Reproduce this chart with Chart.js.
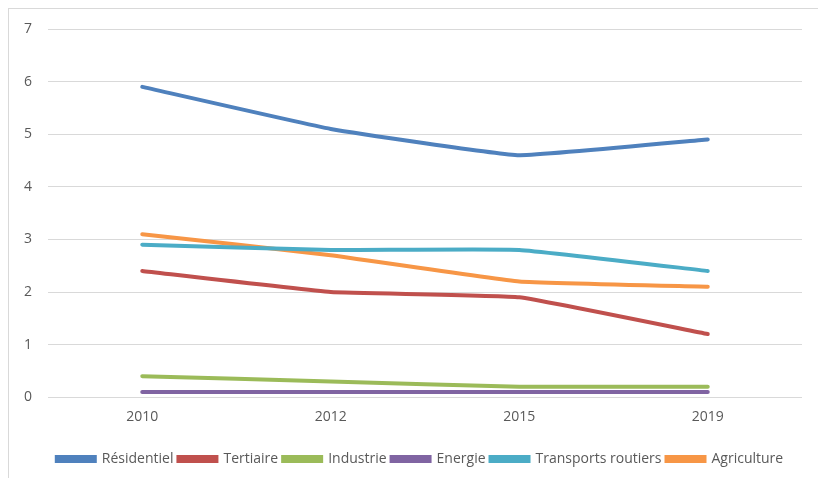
<!DOCTYPE html>
<html>
<head>
<meta charset="utf-8">
<script src="https://cdn.jsdelivr.net/npm/chart.js@4"></script>
<style>
  body { margin: 0; background: #fff; }
  #frame { position: absolute; left: 8px; top: 8px; width: 900px; height: 600px; border: 1px solid #d9d9d9; }
  #wrap { position: absolute; left: 0; top: 0; width: 818px; height: 478px; }
</style>
</head>
<body>
<div id="frame"></div>
<div id="wrap"><canvas id="myChart"></canvas></div>
<script>
// Years on the x-axis
const years = ['2010', '2012', '2015', '2019'];

// Values per sector
const residentiel = [5.9, 5.1, 4.6, 4.9];
const tertiaire = [2.4, 2.0, 1.9, 1.2];
const industrie = [0.4, 0.3, 0.2, 0.2];
const energie = [0.1, 0.1, 0.1, 0.1];
const transports = [2.9, 2.8, 2.8, 2.4];
const agriculture = [3.1, 2.7, 2.2, 2.1];

const font = "'Open Sans', 'Liberation Sans', sans-serif";

function serie(label, values, color) {
    return {
        label: label,
        data: values,
        borderColor: color,
        backgroundColor: color,
        borderWidth: 4,
        borderCapStyle: 'round',
        pointRadius: 0,
        tension: 0.1
    };
}

// nudge the legend a bit to the right
const legendShift = {
    id: 'legendShift',
    afterLayout(chart) {
        chart.legend.left += 15;
        chart.legend.right += 15;
    }
};

const ctx = document.getElementById('myChart').getContext('2d');

const myChart = new Chart(ctx, {
    type: 'line',
    data: {
        labels: years,
        datasets: [
            serie('Résidentiel', residentiel, '#4F81BD'),
            serie('Tertiaire', tertiaire, '#C0504D'),
            serie('Industrie', industrie, '#9BBB59'),
            serie('Energie', energie, '#8064A2'),
            serie('Transports routiers', transports, '#4BACC6'),
            serie('Agriculture', agriculture, '#F79646')
        ]
    },
    plugins: [legendShift],
    options: {
        responsive: true,
        maintainAspectRatio: false,
        animation: false,
        layout: { padding: { left: 8, right: 16, top: 29, bottom: 2 } },
        plugins: {
            tooltip: { enabled: false },
            legend: {
                position: 'bottom',
                labels: {
                    boxWidth: 38,
                    boxHeight: 4,
                    padding: 5,
                    color: '#595959',
                    font: { family: font, size: 14 }
                }
            }
        },
        scales: {
            x: {
                offset: true,
                grid: { display: false },
                border: { display: false },
                ticks: { color: '#595959', padding: 3, font: { family: font, size: 14 } },
                afterFit(scale) { scale.height += 19; }
            },
            y: {
                min: 0,
                max: 7,
                grid: { color: '#d9d9d9', lineWidth: 1, drawTicks: false },
                border: { display: false },
                ticks: { stepSize: 1, color: '#595959', padding: 16, font: { family: font, size: 14 } }
            }
        }
    }
});
</script>
</body>
</html>
